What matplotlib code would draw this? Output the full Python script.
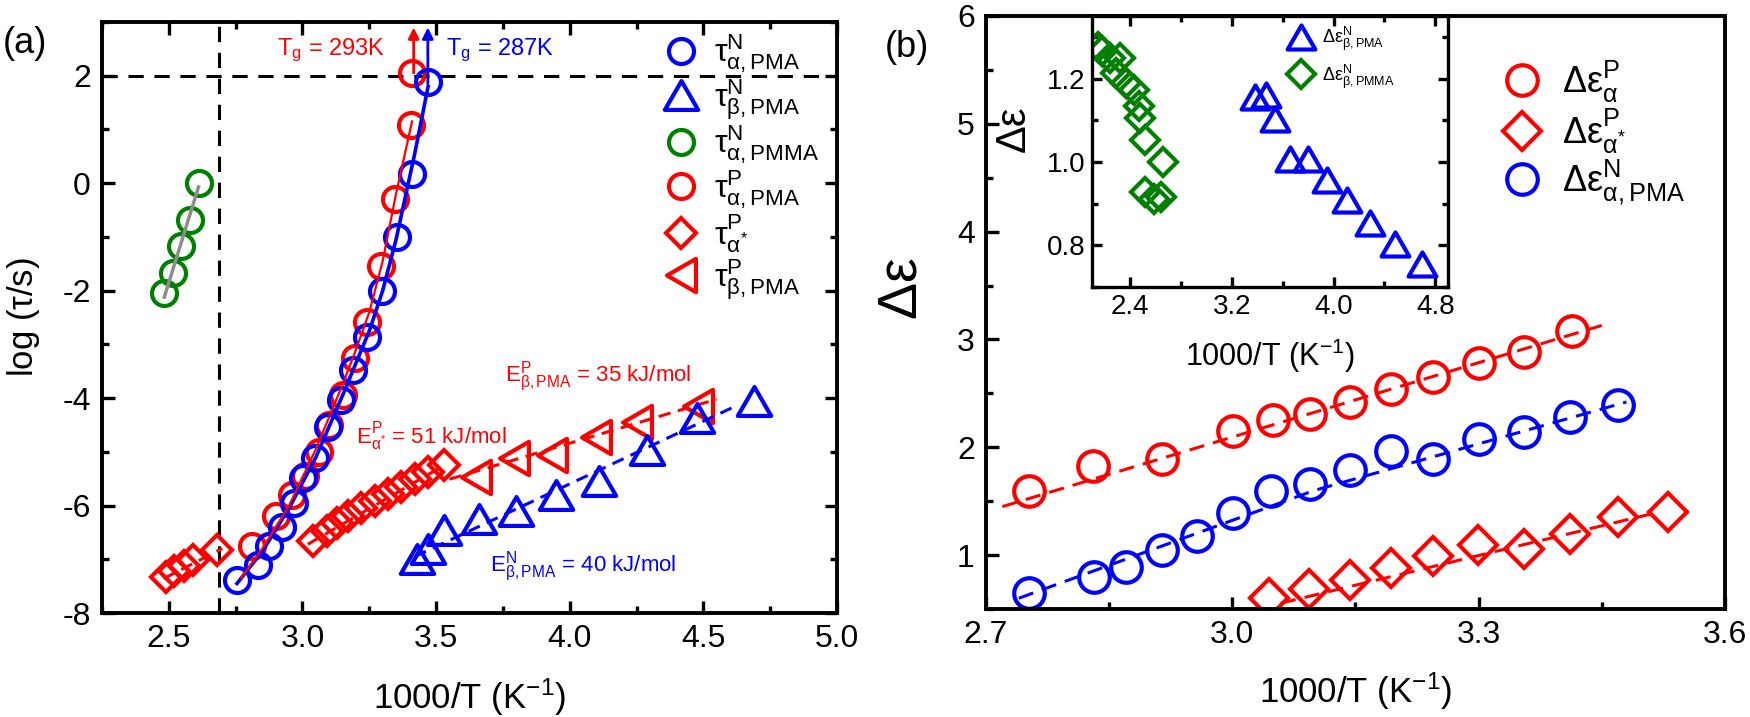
import matplotlib
matplotlib.use('Agg')
import matplotlib.pyplot as plt
from matplotlib.path import Path
from matplotlib.ticker import MultipleLocator, FormatStrFormatter

plt.rcParams['font.family'] = ['Liberation Sans', 'DejaVu Sans']
plt.rcParams['mathtext.fontset'] = 'custom'
plt.rcParams['mathtext.rm'] = 'Liberation Sans'
plt.rcParams['mathtext.it'] = 'Liberation Sans'
plt.rcParams['mathtext.bf'] = 'Liberation Sans:bold'
plt.rcParams['mathtext.default'] = 'regular'
plt.rcParams['axes.unicode_minus'] = False

# ---------------- data, panel (a) : log(tau/s) vs 1000/T ----------------
pmma_alpha_x = [2.483, 2.516, 2.547, 2.578, 2.611]
pmma_alpha_y = [-2.05, -1.68, -1.17, -0.69, 0.0]
pmma_fit_x = [2.483, 2.611]
pmma_fit_y = [-2.12, -0.07]

p_alpha_x = [2.81, 2.90, 2.96, 3.01, 3.06, 3.10, 3.15, 3.195, 3.242, 3.292, 3.345, 3.406, 3.409]
p_alpha_y = [-6.75, -6.20, -5.80, -5.45, -5.00, -4.50, -3.95, -3.26, -2.58, -1.54, -0.29, 1.08, 2.05]
p_alpha_fit_x = [2.77, 2.85, 2.95, 3.05, 3.15, 3.20, 3.25, 3.30, 3.35, 3.41]
p_alpha_fit_y = [-7.35, -6.80, -6.00, -4.95, -3.75, -3.10, -2.40, -1.45, -0.20, 1.15]

n_alpha_x = [2.754, 2.832, 2.875, 2.925, 2.967, 3.003, 3.046, 3.095, 3.145, 3.188, 3.242, 3.299, 3.352, 3.409, 3.470]
n_alpha_y = [-7.39, -7.10, -6.76, -6.39, -5.96, -5.49, -5.12, -4.53, -4.03, -3.48, -2.86, -2.01, -1.01, 0.175, 1.89]
n_alpha_fit_x = [2.755, 2.85, 2.95, 3.05, 3.15, 3.20, 3.25, 3.30, 3.35, 3.42, 3.47]
n_alpha_fit_y = [-7.45, -6.85, -6.05, -5.10, -3.95, -3.35, -2.75, -2.00, -1.05, 0.55, 1.80]

p_astar_x = [2.49, 2.52, 2.555, 2.59, 2.68,
             3.04, 3.09, 3.13, 3.17, 3.22, 3.27, 3.32, 3.37, 3.42, 3.47, 3.53]
p_astar_y = [-7.33, -7.22, -7.12, -7.02, -6.82,
             -6.65, -6.48, -6.33, -6.20, -6.05, -5.92, -5.78, -5.65, -5.50, -5.37, -5.25]
p_astar_fit_x = [3.02, 3.53]
p_astar_fit_y = [-6.72, -5.25]
p_astar_fit2_x = [2.48, 2.70]
p_astar_fit2_y = [-7.36, -6.80]

p_beta_x = [3.65, 3.79, 3.935, 4.10, 4.25, 4.48]
p_beta_y = [-5.47, -5.12, -5.06, -4.72, -4.44, -4.15]
p_beta_fit_x = [3.55, 4.55]
p_beta_fit_y = [-5.51, -4.02]

n_beta_x = [3.43, 3.47, 3.53, 3.66, 3.80, 3.95, 4.11, 4.29, 4.475, 4.69]
n_beta_y = [-7.00, -6.80, -6.45, -6.25, -6.10, -5.80, -5.55, -4.96, -4.37, -4.06]
n_beta_fit_x = [3.42, 4.62]
n_beta_fit_y = [-6.95, -4.15]

tg_level = 2.0
t_vline = 2.687
tg_p_x, tg_n_x = 3.416, 3.469

# ---------------- data, panel (b) : delta epsilon vs 1000/T ----------------
de_p_alpha_x = [2.753, 2.830, 2.915, 3.001, 3.049, 3.095, 3.143, 3.193, 3.245, 3.300, 3.355, 3.414]
de_p_alpha_y = [1.59, 1.83, 1.89, 2.15, 2.25, 2.31, 2.42, 2.54, 2.65, 2.78, 2.88, 3.08]
de_p_alpha_fit_x = [2.72, 3.45]
de_p_alpha_fit_y = [1.45, 3.13]

de_n_alpha_x = [2.753, 2.831, 2.871, 2.915, 2.957, 3.001, 3.047, 3.095, 3.143, 3.193, 3.245, 3.300, 3.355, 3.411, 3.470]
de_n_alpha_y = [0.65, 0.80, 0.89, 1.05, 1.18, 1.39, 1.59, 1.66, 1.79, 1.97, 1.89, 2.08, 2.14, 2.28, 2.39]
de_n_alpha_fit_x = [2.74, 3.10, 3.48]
de_n_alpha_fit_y = [0.60, 1.60, 2.42]

de_p_astar_x = [3.045, 3.093, 3.143, 3.193, 3.245, 3.299, 3.355, 3.411, 3.470, 3.531]
de_p_astar_y = [0.60, 0.69, 0.77, 0.88, 0.99, 1.09, 1.06, 1.20, 1.35, 1.40]
de_p_astar_fit_x = [3.059, 3.52]
de_p_astar_fit_y = [0.554, 1.40]

# inset
de_n_beta_pmma_x = [2.15, 2.18, 2.24, 2.32, 2.29, 2.37, 2.43, 2.47, 2.48, 2.52, 2.66, 2.52, 2.59, 2.64]
de_n_beta_pmma_y = [1.275, 1.266, 1.25, 1.25, 1.213, 1.19, 1.173, 1.133, 1.105, 1.052, 1.0, 0.928, 0.911, 0.915]
de_n_beta_pma_x = [3.38, 3.471, 3.537, 3.655, 3.80, 3.945, 4.103, 4.287, 4.484, 4.695]
de_n_beta_pma_y = [1.156, 1.16, 1.104, 1.008, 1.008, 0.956, 0.908, 0.854, 0.804, 0.754]

RED = '#FF0000'
BLUE = '#0000FF'
GREEN = '#008000'

tri_up = Path([(-1, -0.866), (1, -0.866), (0, 0.866), (-1, -0.866)], closed=True)
tri_left = Path([(0.866, -1), (0.866, 1), (-0.866, 0), (0.866, -1)], closed=True)


def style_axes(ax, all_sides=True, size=23, width=2.8):
    for s in ax.spines.values():
        s.set_linewidth(width)
    ax.tick_params(which='both', direction='in', top=all_sides, right=all_sides,
                   width=2.4, labelsize=size, pad=8)
    ax.tick_params(which='major', length=9)
    ax.tick_params(which='minor', length=5)


fig = plt.figure(figsize=(17.5, 7.17), dpi=100)

# ======================= panel (a) =======================
axa = fig.add_axes([0.0583, 0.145, 0.42, 0.8243])
mk = dict(ls='none', mfc='none', mew=3)

axa.axhline(tg_level, color='k', lw=2.2, dashes=(5, 3.5), zorder=1)
axa.axvline(t_vline, color='k', lw=2.2, dashes=(5, 3.5), zorder=1)

h_green, = axa.plot(pmma_alpha_x, pmma_alpha_y, marker='o', ms=18, mec=GREEN, **mk)
axa.plot(pmma_fit_x, pmma_fit_y, color='#8c8c8c', lw=2.5)

h_pdiam, = axa.plot(p_astar_x, p_astar_y, marker='D', ms=15, mec=RED, **mk)
axa.plot(p_astar_fit_x, p_astar_fit_y, color=RED, lw=2.2, dashes=(4, 2.5))
axa.plot(p_astar_fit2_x, p_astar_fit2_y, color=RED, lw=2.2, dashes=(4, 2.5))

h_pbeta, = axa.plot(p_beta_x, p_beta_y, marker=tri_left, ms=24, mec=RED, **mk)
axa.plot(p_beta_fit_x, p_beta_fit_y, color=RED, lw=2.2, dashes=(4, 2.5))

h_nbeta, = axa.plot(n_beta_x, n_beta_y, marker=tri_up, ms=24, mec=BLUE, **mk)
axa.plot(n_beta_fit_x, n_beta_fit_y, color=BLUE, lw=2.2, dashes=(4, 2.5))

h_palpha, = axa.plot(p_alpha_x, p_alpha_y, marker='o', ms=18, mec=RED, **mk)
h_nalpha, = axa.plot(n_alpha_x, n_alpha_y, marker='o', ms=18, mec=BLUE, **mk)
axa.plot(n_alpha_fit_x, n_alpha_fit_y, color=BLUE, lw=2.6)
axa.plot(p_alpha_fit_x, p_alpha_fit_y, color=RED, lw=1.6)

axa.annotate('', xy=(tg_p_x, 2.95), xytext=(tg_p_x, tg_level),
             arrowprops=dict(arrowstyle='-|>', color=RED, lw=2, mutation_scale=16))
axa.annotate('', xy=(tg_n_x, 2.95), xytext=(tg_n_x, 1.8),
             arrowprops=dict(arrowstyle='-|>', color=BLUE, lw=2, mutation_scale=16))
axa.text(2.905, 2.38, 'T$_g$ = 293K', color=RED, fontsize=17, va='baseline')
axa.text(3.537, 2.38, 'T$_g$ = 287K', color=BLUE, fontsize=17, va='baseline')
axa.text(3.756, -3.6, r'E$^{P}_{\beta,PMA}$ = 35 kJ/mol', color=RED, fontsize=16, va='center')
axa.text(3.202, -4.71, r'E$^{P}_{\alpha^{*}}$ = 51 kJ/mol', color=RED, fontsize=16, va='center')
axa.text(3.70, -7.14, r'E$^{N}_{\beta,PMA}$ = 40 kJ/mol', color=BLUE, fontsize=16, va='center')

axa.set_xlim(2.25, 5.0)
axa.set_ylim(-8, 3)
axa.xaxis.set_major_locator(MultipleLocator(0.5))
axa.xaxis.set_minor_locator(MultipleLocator(0.25))
axa.yaxis.set_major_locator(MultipleLocator(2))
axa.yaxis.set_minor_locator(MultipleLocator(1))
axa.xaxis.set_major_formatter(FormatStrFormatter('%.1f'))
style_axes(axa)
axa.set_xlabel('1000/T (K$^{-1}$)', fontsize=25)
axa.set_ylabel(r'log ($\tau$/s)', fontsize=25)
axa.xaxis.set_label_coords(0.5, -0.108)
axa.yaxis.set_label_coords(-0.082, 0.5)

axa.legend([h_nalpha, h_nbeta, h_green, h_palpha, h_pdiam, h_pbeta],
           [r'$\tau^{N}_{\alpha,PMA}$', r'$\tau^{N}_{\beta,PMA}$', r'$\tau^{N}_{\alpha,PMMA}$',
            r'$\tau^{P}_{\alpha,PMA}$', r'$\tau^{P}_{\alpha^{*}}$', r'$\tau^{P}_{\beta,PMA}$'],
           loc='upper left', bbox_to_anchor=(0.735, 1.015), frameon=False, fontsize=23,
           handlelength=1.2, handletextpad=0.45, labelspacing=0.05, borderaxespad=0.2)

fig.text(0.0143, 0.94, '(a)', fontsize=26, ha='center', va='center')
fig.text(0.518, 0.934, '(b)', fontsize=26, ha='center', va='center')

# ======================= panel (b) =======================
axb = fig.add_axes([0.5634, 0.1506, 0.4223, 0.8271])
h_de_pa, = axb.plot(de_p_alpha_x, de_p_alpha_y, marker='o', ms=22, mec=RED, **mk)
axb.plot(de_p_alpha_fit_x, de_p_alpha_fit_y, color=RED, lw=2.2, dashes=(5, 3))
h_de_na, = axb.plot(de_n_alpha_x, de_n_alpha_y, marker='o', ms=22, mec=BLUE, **mk)
axb.plot(de_n_alpha_fit_x, de_n_alpha_fit_y, color=BLUE, lw=2.2, dashes=(5, 3))
h_de_ps, = axb.plot(de_p_astar_x, de_p_astar_y, marker='D', ms=19, mec=RED, **mk)
axb.plot(de_p_astar_fit_x, de_p_astar_fit_y, color=RED, lw=2.2, dashes=(5, 3))

axb.set_xlim(2.7, 3.6)
axb.set_ylim(0.5, 6)
axb.xaxis.set_major_locator(MultipleLocator(0.3))
axb.xaxis.set_minor_locator(MultipleLocator(0.15))
axb.yaxis.set_major_locator(MultipleLocator(1))
axb.yaxis.set_minor_locator(MultipleLocator(0.5))
axb.xaxis.set_major_formatter(FormatStrFormatter('%.1f'))
style_axes(axb, all_sides=False)
axb.set_xlabel('1000/T (K$^{-1}$)', fontsize=25)
axb.set_ylabel(r'$\Delta\varepsilon$', fontsize=40)
axb.xaxis.set_label_coords(0.5, -0.103)
axb.yaxis.set_label_coords(-0.078, 0.54)

axb.legend([h_de_pa, h_de_ps, h_de_na],
           [r'$\Delta\varepsilon^{P}_{\alpha}$', r'$\Delta\varepsilon^{P}_{\alpha^{*}}$',
            r'$\Delta\varepsilon^{N}_{\alpha,PMA}$'],
           loc='upper left', bbox_to_anchor=(0.667, 0.965), frameon=False, fontsize=26,
           handlelength=1.2, handletextpad=0.5, labelspacing=0.05, borderaxespad=0.2)

# ----- inset -----
axi = fig.add_axes([0.624, 0.5997, 0.2034, 0.378])
h_in_g, = axi.plot(de_n_beta_pmma_x, de_n_beta_pmma_y, marker='D', ms=14, mec=GREEN, **mk)
h_in_b, = axi.plot(de_n_beta_pma_x, de_n_beta_pma_y, marker=tri_up, ms=20, mec=BLUE, **mk)
axi.set_xlim(2.1, 4.9)
axi.set_ylim(0.7, 1.35)
axi.set_xticks([2.4, 3.2, 4.0, 4.8])
axi.set_xticks([2.8, 3.6, 4.4], minor=True)
axi.yaxis.set_major_locator(MultipleLocator(0.2))
axi.yaxis.set_minor_locator(MultipleLocator(0.1))
axi.xaxis.set_major_formatter(FormatStrFormatter('%.1f'))
axi.yaxis.set_major_formatter(FormatStrFormatter('%.1f'))
style_axes(axi, size=20, width=2.4)
axi.tick_params(which='both', pad=5)
axi.tick_params(which='major', length=7)
axi.tick_params(which='minor', length=4)
axi.set_xlabel('1000/T (K$^{-1}$)', fontsize=22)
axi.set_ylabel(r'$\Delta\varepsilon$', fontsize=30)
axi.xaxis.set_label_coords(0.5, -0.185)
axi.yaxis.set_label_coords(-0.16, 0.58)
axi.legend([h_in_b, h_in_g],
           [r'$\Delta\varepsilon^{N}_{\beta,PMA}$', r'$\Delta\varepsilon^{N}_{\beta,PMMA}$'],
           loc='upper left', bbox_to_anchor=(0.52, 1.0), frameon=False, fontsize=13,
           handlelength=1.6, handletextpad=0.4, labelspacing=0.5, borderaxespad=0.1)

fig.savefig('out.png', dpi=100)
